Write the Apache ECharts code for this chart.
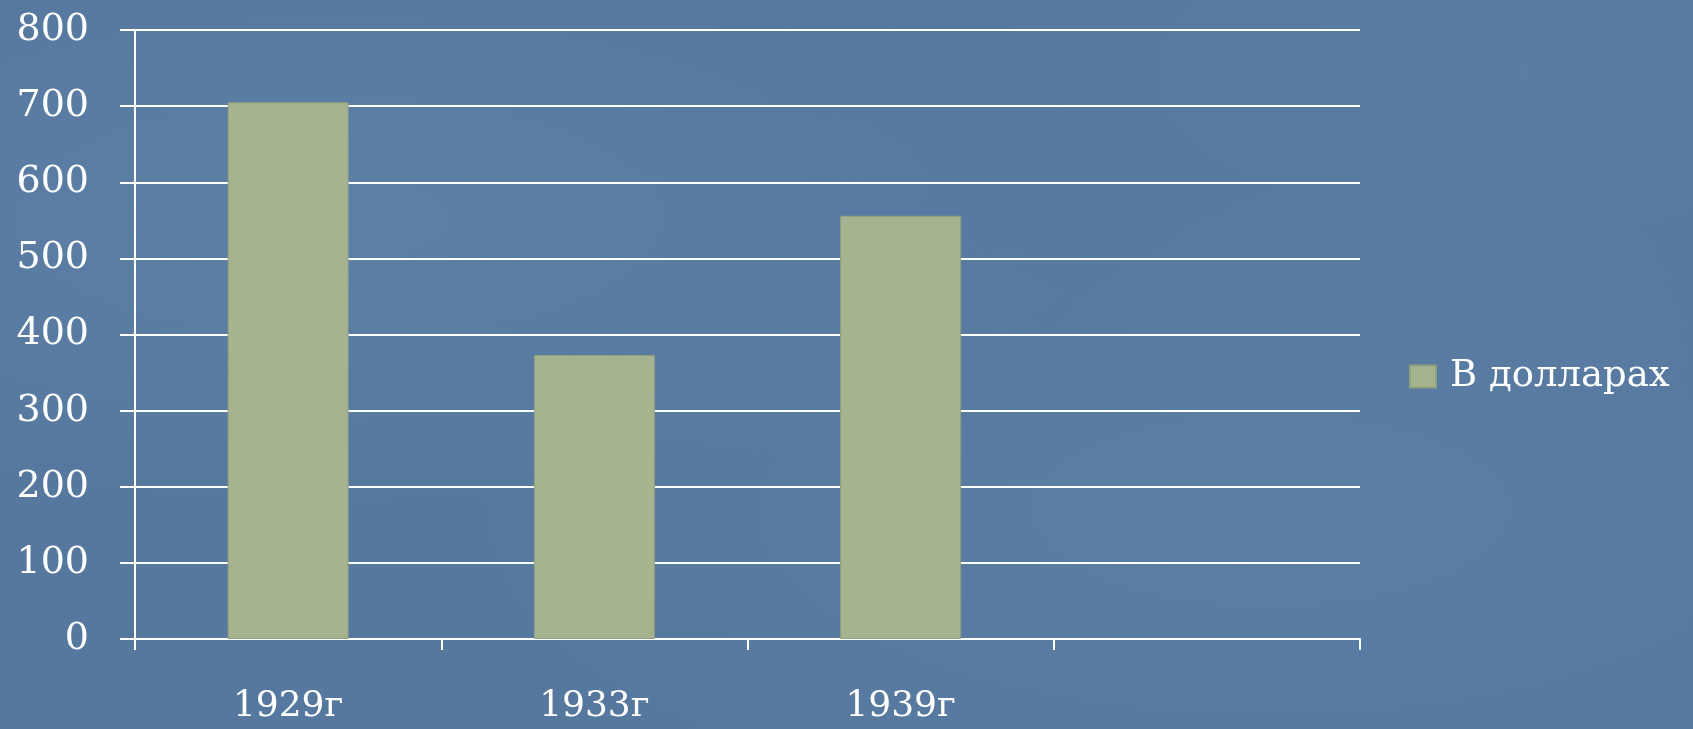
<!DOCTYPE html>
<html>
<head>
<meta charset="utf-8">
<script src="https://cdn.jsdelivr.net/npm/echarts@6/dist/echarts.min.js"></script>
<style>
html,body{margin:0;padding:0;width:1693px;height:729px;overflow:hidden;}
body{background:#56789f;
background-image:
 radial-gradient(ellipse at 20% 30%, rgba(120,155,195,0.22), rgba(0,0,0,0) 40%),
 radial-gradient(ellipse at 75% 70%, rgba(120,155,195,0.18), rgba(0,0,0,0) 45%),
 radial-gradient(ellipse at 90% 10%, rgba(110,145,185,0.18), rgba(0,0,0,0) 35%);}
#chart{width:1693px;height:729px;}
</style>
</head>
<body>
<div id="chart"></div>
<script>
const categories = ['1929г', '1933г', '1939г', ''];
const dollarValues = [705, 373, 556, null];
const seriesName = 'В долларах';
const yTicks = { min: 0, max: 800, interval: 100 };

const chart = echarts.init(document.getElementById('chart'));
const font = 'DejaVu Serif';
chart.setOption({
  animation: false,
  backgroundColor: 'transparent',
  grid: { left: 135, right: 333, top: 30, bottom: 90, containLabel: false },
  legend: {
    orient: 'vertical',
    left: 1404,
    top: 353,
    itemWidth: 26,
    itemHeight: 22,
    icon: 'rect',
    data: [seriesName],
    textStyle: { color: '#ffffff', fontFamily: font, fontSize: 37, padding: [0, 0, 0, 9] }
  },
  xAxis: {
    type: 'category',
    data: categories,
    boundaryGap: true,
    axisLine: { lineStyle: { color: '#ffffff', width: 2 } },
    axisTick: { show: true, length: 11, alignWithLabel: false, lineStyle: { color: '#ffffff', width: 2 } },
    axisLabel: { color: '#ffffff', fontFamily: font, fontSize: 36, margin: 50 },
    splitLine: { show: false }
  },
  yAxis: {
    type: 'value',
    min: yTicks.min,
    max: yTicks.max,
    interval: yTicks.interval,
    axisLine: { show: true, lineStyle: { color: '#ffffff', width: 2 } },
    axisTick: { show: true, length: 15, lineStyle: { color: '#ffffff', width: 2 } },
    axisLabel: { color: '#ffffff', fontFamily: font, fontSize: 38, margin: 46 },
    splitLine: { show: true, lineStyle: { color: '#ffffff', width: 2 } }
  },
  series: [{
    name: seriesName,
    type: 'bar',
    data: dollarValues,
    barWidth: '39.5%',
    itemStyle: { color: '#a5b38f', borderColor: '#8fa07f', borderWidth: 1 }
  }]
});
</script>
</body>
</html>
